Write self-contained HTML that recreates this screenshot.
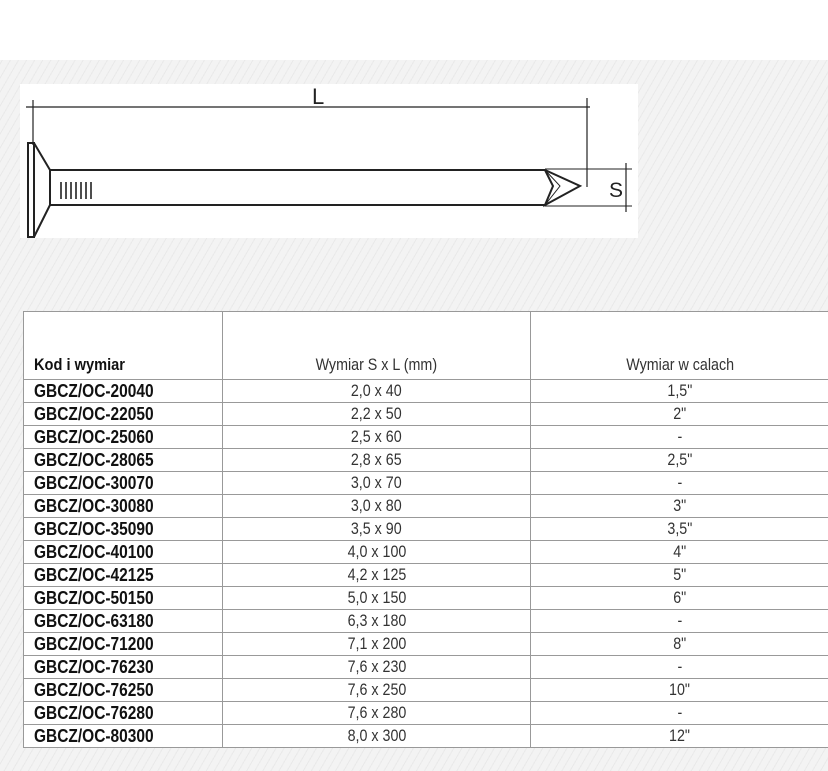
<!DOCTYPE html>
<html><head><meta charset="utf-8"><style>
body{margin:0;width:828px;height:771px;overflow:hidden;background:#fff;font-family:"Liberation Sans",sans-serif;}
#bg{position:absolute;left:0;top:60px;width:828px;height:711px;background:#efefef repeating-linear-gradient(-60deg,#f3f3f3 0 6px,#e9e9e9 6px 7px);}
#img{position:absolute;left:20px;top:84px;width:618px;height:154px;background:#fff;}
table{position:absolute;left:23px;top:311px;width:806px;border-collapse:collapse;background:#fff;font-size:17px;color:#333;}
td{border:1px solid #999;height:22px;padding:0;line-height:22px;text-align:center;white-space:nowrap;}
td span{display:inline-block;transform:scaleX(0.84);}
td.k{text-align:left;padding-left:10px;font-weight:bold;color:#111;font-size:18px;}
td.k span{transform-origin:0 50%;transform:scaleX(0.86);}
tr.h td{height:67px;vertical-align:bottom;line-height:28px;}
tr.h td.k{font-size:17px;}
</style></head><body>
<div id="bg"></div>
<div id="img">
<svg width="618" height="154" viewBox="20 84 618 154" style="position:absolute;left:0;top:0">
<g stroke="#222" fill="none" stroke-width="2">
<line x1="26" y1="107" x2="590" y2="107" stroke-width="1.2"/>
<line x1="33" y1="100" x2="33" y2="145" stroke-width="1.2"/>
<line x1="587" y1="98" x2="587" y2="187" stroke-width="1.2"/>
<rect x="28" y="143" width="6" height="94"/>
<polyline points="34,143 50,170 50,205 34,237"/>
<line x1="50" y1="170" x2="545" y2="170"/>
<line x1="50" y1="205" x2="545" y2="205"/>
<polyline points="545,170 580,186 545,205 553,186 545,170"/>
<polyline points="545,170 560,186 545,205" stroke-width="1"/>
<line x1="545" y1="169" x2="632" y2="169" stroke-width="1"/>
<line x1="545" y1="206" x2="632" y2="206" stroke-width="1"/>
<line x1="626" y1="163" x2="626" y2="212" stroke-width="1.2"/>
<g stroke-width="1.6"><line x1="61" y1="182" x2="61" y2="199"/><line x1="66" y1="182" x2="66" y2="199"/><line x1="71" y1="182" x2="71" y2="199"/><line x1="76" y1="182" x2="76" y2="199"/><line x1="81" y1="182" x2="81" y2="199"/><line x1="86" y1="182" x2="86" y2="199"/><line x1="91" y1="182" x2="91" y2="199"/></g>
</g>
<text x="312" y="104" font-family="Liberation Sans" font-size="22" fill="#222">L</text>
<text x="609" y="197" font-family="Liberation Sans" font-size="21" fill="#222">S</text>
</svg></div>
<table>
<colgroup><col style="width:199px"><col style="width:309px"><col style="width:298px"></colgroup>
<tr class="h"><td class="k"><span>Kod i wymiar</span></td><td><span>Wymiar S x L (mm)</span></td><td><span>Wymiar w calach</span></td></tr>
<tr><td class="k"><span>GBCZ/OC-20040</span></td><td><span>2,0 x 40</span></td><td><span>1,5"</span></td></tr>
<tr><td class="k"><span>GBCZ/OC-22050</span></td><td><span>2,2 x 50</span></td><td><span>2"</span></td></tr>
<tr><td class="k"><span>GBCZ/OC-25060</span></td><td><span>2,5 x 60</span></td><td><span>-</span></td></tr>
<tr><td class="k"><span>GBCZ/OC-28065</span></td><td><span>2,8 x 65</span></td><td><span>2,5"</span></td></tr>
<tr><td class="k"><span>GBCZ/OC-30070</span></td><td><span>3,0 x 70</span></td><td><span>-</span></td></tr>
<tr><td class="k"><span>GBCZ/OC-30080</span></td><td><span>3,0 x 80</span></td><td><span>3"</span></td></tr>
<tr><td class="k"><span>GBCZ/OC-35090</span></td><td><span>3,5 x 90</span></td><td><span>3,5"</span></td></tr>
<tr><td class="k"><span>GBCZ/OC-40100</span></td><td><span>4,0 x 100</span></td><td><span>4"</span></td></tr>
<tr><td class="k"><span>GBCZ/OC-42125</span></td><td><span>4,2 x 125</span></td><td><span>5"</span></td></tr>
<tr><td class="k"><span>GBCZ/OC-50150</span></td><td><span>5,0 x 150</span></td><td><span>6"</span></td></tr>
<tr><td class="k"><span>GBCZ/OC-63180</span></td><td><span>6,3 x 180</span></td><td><span>-</span></td></tr>
<tr><td class="k"><span>GBCZ/OC-71200</span></td><td><span>7,1 x 200</span></td><td><span>8"</span></td></tr>
<tr><td class="k"><span>GBCZ/OC-76230</span></td><td><span>7,6 x 230</span></td><td><span>-</span></td></tr>
<tr><td class="k"><span>GBCZ/OC-76250</span></td><td><span>7,6 x 250</span></td><td><span>10"</span></td></tr>
<tr><td class="k"><span>GBCZ/OC-76280</span></td><td><span>7,6 x 280</span></td><td><span>-</span></td></tr>
<tr><td class="k"><span>GBCZ/OC-80300</span></td><td><span>8,0 x 300</span></td><td><span>12"</span></td></tr>
</table>
</body></html>
